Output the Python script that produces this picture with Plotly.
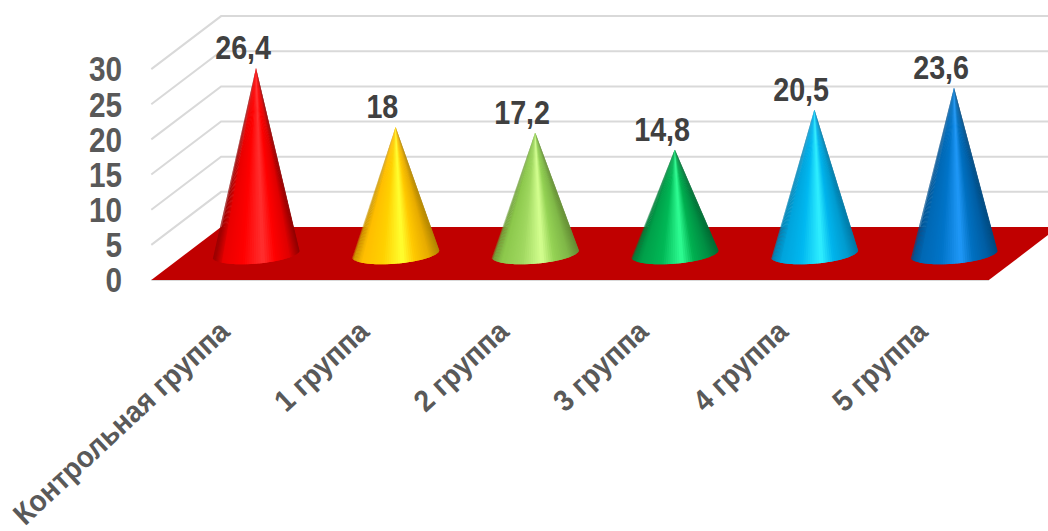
import math
import plotly.graph_objects as go

# Chart data
categories = ["Контрольная группа", "1 группа", "2 группа", "3 группа", "4 группа", "5 группа"]
values = [26.4, 18, 17.2, 14.8, 20.5, 23.6]
y_ticks = [0, 5, 10, 15, 20, 25, 30]

# Shading across each cone, left edge to right edge
shades = [
    ["#8a0000", "#e80000", "#ff0000", "#ff3030", "#ff0000", "#e00000", "#8a0000"],
    ["#c89400", "#ffbe00", "#ffd000", "#ffff30", "#ffc800", "#e8ac00", "#b08400"],
    ["#6f9c3a", "#8cc84c", "#a0d860", "#d4ff90", "#94d254", "#80b848", "#648c34"],
    ["#007a38", "#00a04a", "#00b856", "#30ff94", "#00b050", "#009044", "#006c34"],
    ["#0080b0", "#00a4dc", "#00b8f0", "#30f0ff", "#00b4ec", "#009cd0", "#0078a4"],
    ["#004f8c", "#0068b4", "#0074c8", "#2098f8", "#0070c0", "#005ea4", "#00497e"],
]
shade_stops = [0, 0.12, 0.35, 0.58, 0.72, 0.88, 1]

W, H = 1048, 531
CAT_PX, VAL_PX = 139.6, 7.03
ZERO_X_PX, ZERO_Y_PX = 256, 280
DEPTH_X, DEPTH_Y = 0.5, 7.54     # floor depth in axis units
CONE_A, CONE_B, CONE_TILT = 0.314, 1.45, 0.5   # base ellipse in axis units
WEDGES = 60


def project(i, v, d):
    """Oblique projection of (category, value, depth 0..1) onto the axes."""
    return i - DEPTH_X / 2 + d * DEPTH_X, v + d * DEPTH_Y


def hex_rgb(c):
    return [int(c[k:k + 2], 16) for k in (1, 3, 5)]


def shade_at(palette, f):
    for k in range(len(shade_stops) - 1):
        if f <= shade_stops[k + 1]:
            t = (f - shade_stops[k]) / (shade_stops[k + 1] - shade_stops[k])
            a, b = hex_rgb(palette[k]), hex_rgb(palette[k + 1])
            return "rgb(%d,%d,%d)" % tuple(round(p + (q - p) * t) for p, q in zip(a, b))
    return palette[-1]


def poly(xs, ys, color):
    return go.Scatter(x=xs, y=ys, mode="lines", fill="toself", fillcolor=color,
                      line=dict(color=color, width=0),
                      hoverinfo="skip", showlegend=False)


fig = go.Figure()

# Side and back wall gridlines
GRID = "#d9d9d9"
for v in y_ticks[1:]:
    x0, y0 = project(-0.5, v, 0)
    x1, y1 = project(-0.5, v, 1)
    x2, y2 = project(len(categories) - 0.5, v, 1)
    fig.add_trace(go.Scatter(x=[x0, x1, x2], y=[y0, y1, y2], mode="lines",
                             line=dict(color=GRID, width=2),
                             hoverinfo="skip", showlegend=False))

# Floor
corners = [project(-0.5, 0, 0), project(-0.5, 0, 1),
           project(len(categories) - 0.5, 0, 1), project(len(categories) - 0.5, 0, 0)]
fx = [c[0] for c in corners] + [corners[0][0]]
fy = [c[1] for c in corners] + [corners[0][1]]
fig.add_trace(go.Scatter(x=[fx[0], fx[3]], y=[fy[0], fy[3]], mode="lines",
                         line=dict(color=GRID, width=2), hoverinfo="skip", showlegend=False))
fig.add_trace(poly(fx, fy, "#c00000"))

# Cones, built from narrow overlapping wedges so the shading converges at the apex
for i, (v, palette) in enumerate(zip(values, shades)):
    cx, cy = project(i, 0, 0.5)
    ax, ay = project(i, v, 0.5)
    for k in range(WEDGES):
        t0 = math.pi * (1 - k / WEDGES)
        t1 = math.pi * (1 - min(k + 2, WEDGES) / WEDGES)
        ts = [t0 + (t1 - t0) * s / 4 for s in range(5)]
        xs = [ax] + [cx + CONE_A * math.cos(t) for t in ts] + [ax]
        ys = [ay] + [cy - CONE_B * math.sin(t) + CONE_TILT * math.cos(t) for t in ts] + [ay]
        tm = math.pi * (1 - (k + 0.5) / WEDGES)
        fig.add_trace(poly(xs, ys, shade_at(palette, (1 + math.cos(tm)) / 2)))

# Value labels above the apexes
for i, v in enumerate(values):
    ax, ay = project(i, v, 0.5)
    fig.add_annotation(x=ax, y=ay, text=f"{v:g}".replace(".", ","), showarrow=False,
                       xshift=-13, yshift=20, xanchor="center", yanchor="middle",
                       font=dict(family="Liberation Sans", size=33,
                                 color="#404040", weight="bold"))

fig.update_layout(
    width=W, height=H, margin=dict(l=0, r=0, t=0, b=0, autoexpand=False),
    paper_bgcolor="white", plot_bgcolor="white", showlegend=False,
    xaxis=dict(
        range=[-ZERO_X_PX / CAT_PX, (W - ZERO_X_PX) / CAT_PX],
        domain=[0, 1], anchor="free", position=(H - ZERO_Y_PX) / H,
        tickvals=[i - DEPTH_X / 2 for i in range(len(categories))],
        ticktext=categories, tickangle=-43,
        ticks="outside", ticklen=21, tickcolor="rgba(0,0,0,0)",
        ticklabeloverflow="allow", automargin=False,
        showgrid=False, zeroline=False, showline=False,
        tickfont=dict(family="Liberation Sans", size=30, color="#595959", weight="bold"),
    ),
    yaxis=dict(
        range=[(ZERO_Y_PX - H) / VAL_PX, ZERO_Y_PX / VAL_PX],
        domain=[0, 1], anchor="free", position=152 / W,
        tickvals=y_ticks, automargin=False,
        ticks="outside", ticklen=23, tickcolor="rgba(0,0,0,0)",
        showgrid=False, zeroline=False, showline=False,
        tickfont=dict(family="Liberation Sans", size=35, color="#595959", weight="bold"),
    ),
)

# Condense the bold labels horizontally, as no narrow face is installed
condense = """
var squeeze = function (sel, k) {
  document.querySelectorAll(sel).forEach(function (t) {
    t.setAttribute('textLength', t.getComputedTextLength() * k);
    t.setAttribute('lengthAdjust', 'spacingAndGlyphs');
  });
};
squeeze('.ytick text', 0.85);
squeeze('.xtick text', 0.93);
squeeze('.annotation-text', 0.87);
"""
fig.write_html("out.html", post_script=condense)
